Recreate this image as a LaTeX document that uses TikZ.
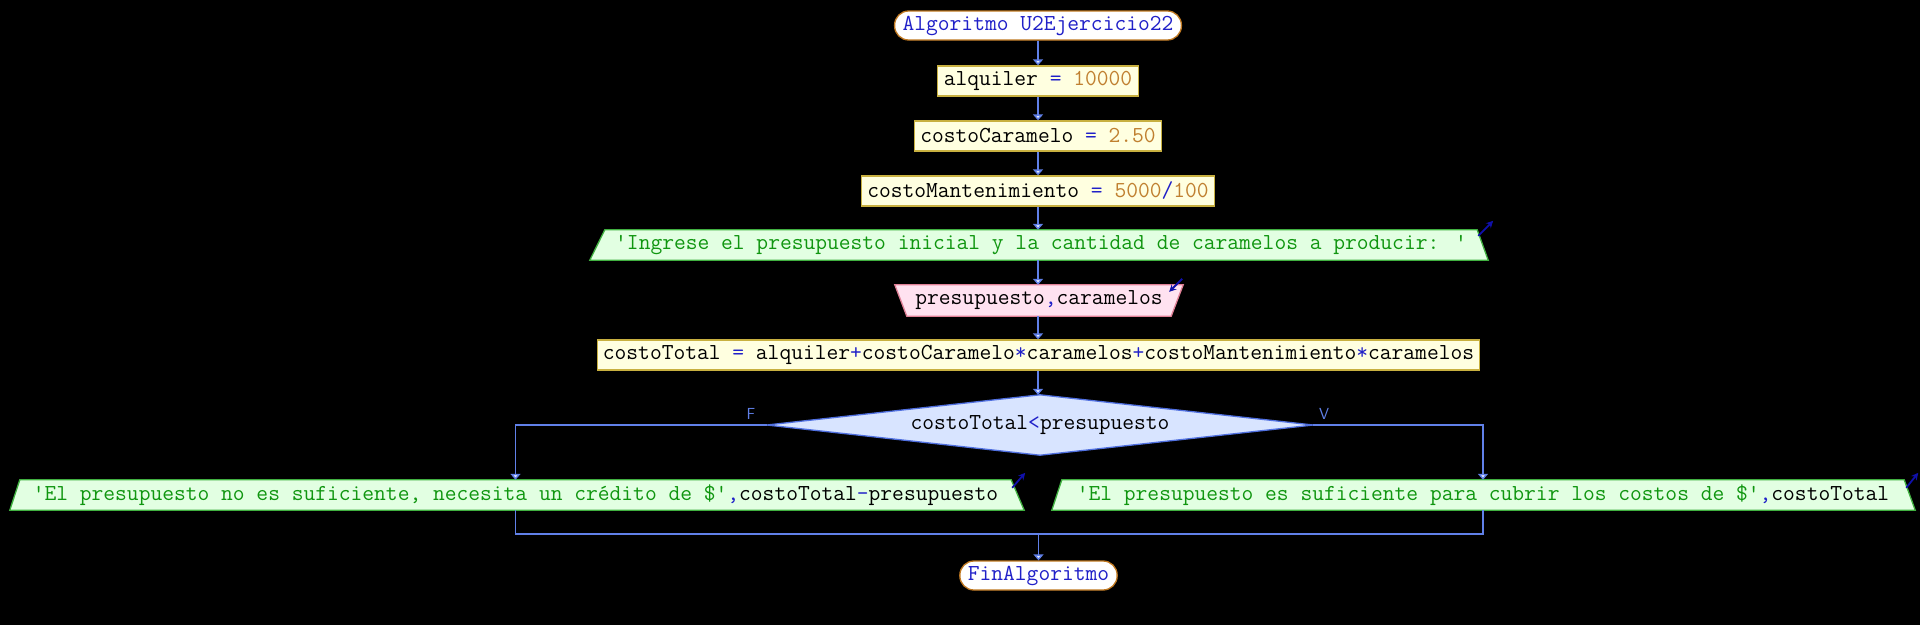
\documentclass[tikz,border=0pt]{standalone}
\usepackage{fontspec}
\usetikzlibrary{arrows.meta,backgrounds,calc}
\definecolor{linec}{RGB}{96,128,232}
\definecolor{headc}{RGB}{225,232,255}
\definecolor{kw}{RGB}{32,32,200}
\definecolor{num}{RGB}{192,128,48}
\definecolor{strc}{RGB}{16,150,16}
\definecolor{asgfill}{RGB}{255,255,224}
\definecolor{asgdraw}{RGB}{200,176,64}
\definecolor{outfill}{RGB}{226,255,226}
\definecolor{outdraw}{RGB}{64,176,64}
\definecolor{infill}{RGB}{255,226,240}
\definecolor{indraw}{RGB}{224,128,150}
\definecolor{decfill}{RGB}{216,228,255}
\definecolor{decdraw}{RGB}{80,112,224}
\definecolor{termdraw}{RGB}{192,120,32}
\definecolor{iconc}{RGB}{16,16,170}
\newcommand{\opc}[1]{\textcolor{kw}{#1}}
\newcommand{\numc}[1]{\textcolor{num}{#1}}
\newcommand{\strg}[1]{\textcolor{strc}{#1}}
\newcommand{\pfont}{\fontsize{22.86}{26}\selectfont\ttfamily}
\tikzset{
  base/.style={font=\pfont, text=black, inner ysep=0pt, minimum height=30pt},
  term/.style={base, draw=termdraw, fill=white, line width=1.3pt, rounded corners=14pt, inner xsep=8pt, minimum height=29pt},
  asg/.style={base, draw=asgdraw, fill=asgfill, line width=1.3pt, inner xsep=6pt},
  io/.style={base, inner xsep=0pt},
  dec/.style={base, inner xsep=0pt, minimum width=546pt, minimum height=60pt},
  flow/.style={draw=linec, line width=1.4pt, -{Triangle[width=10pt,length=6pt,fill=headc]}},
  plain/.style={draw=linec, line width=1.4pt},
  outshape/.style={fill=outfill, draw=outdraw, line width=1.3pt},
  inshape/.style={fill=infill, draw=indraw, line width=1.3pt},
  decshape/.style={fill=decfill, draw=decdraw, line width=1.3pt},
  lbl/.style={font=\fontsize{16}{16}\selectfont\sffamily, text=linec, inner sep=0pt},
  icon/.style={draw=iconc, line width=1.8pt, -{Stealth[length=7pt,width=7pt]}}
}
\begin{document}
\begin{tikzpicture}[x=1pt,y=-1pt]
\useasboundingbox (0,0) rectangle (1920,625);

\node[term] (start) at (1038,25.5) {\opc{Algoritmo U2Ejercicio22}};
\node[asg] (a1) at (1038,81) {alquiler \opc{=} \numc{10000}};
\node[asg] (a2) at (1038,136) {costoCaramelo \opc{=} \numc{2.50}};
\node[asg] (a3) at (1038,191) {costoMantenimiento \opc{=} \numc{5000}\opc{/}\numc{100}};
\node[io, minimum width=872pt] (out1) at (1041,245) {\strg{'Ingrese el presupuesto inicial y la cantidad de caramelos a producir: '}};
\node[io, minimum width=288pt, minimum height=31pt] (in1) at (1039,300.5) {presupuesto\opc{,}caramelos};
\node[asg, inner xsep=5.5pt] (ct) at (1038.5,355) {costoTotal \opc{=} alquiler\opc{+}costoCaramelo\opc{*}caramelos\opc{+}costoMantenimiento\opc{*}caramelos};
\node[dec] (d) at (1040,425) {costoTotal\opc{<}presupuesto};
\node[io, minimum width=991pt] (oL) at (515.5,495) {\strg{'El presupuesto no es suficiente, necesita un crédito de \$'}\opc{,}costoTotal\opc{-}presupuesto};
\node[io, minimum width=842pt] (oR) at (1483,495) {\strg{'El presupuesto es suficiente para cubrir los costos de \$'}\opc{,}costoTotal};
\node[term] (fin) at (1038.5,575.5) {\opc{FinAlgoritmo}};
\node[lbl] (fl) at (751,414) {F};
\node[lbl] (vl) at (1324,414) {V};
\coordinate (mL) at (oL.south |- 0,534);

\begin{scope}[on background layer]
  \fill[black] (0,0) rectangle (1920,625);
  \path[outshape] ($(out1.south west)+(-15,0)$) -- (out1.north west) -- (out1.north east) -- ($(out1.south east)+(11,0)$) -- cycle;
  \path[inshape] (in1.north west) -- (in1.north east) -- ($(in1.south east)+(-12,0)$) -- ($(in1.south west)+(12,0)$) -- cycle;
  \path[decshape] (d.west) -- (d.north) -- (d.east) -- (d.south) -- cycle;
  \path[outshape] ($(oL.south west)+(-10,0)$) -- (oL.north west) -- (oL.north east) -- ($(oL.south east)+(13,0)$) -- cycle;
  \path[outshape] ($(oR.south west)+(-10,0)$) -- (oR.north west) -- (oR.north east) -- ($(oR.south east)+(11,0)$) -- cycle;
\end{scope}

\draw[flow] (start.south) -- (start.south |- a1.north);
\draw[flow] (a1.south) -- (a1.south |- a2.north);
\draw[flow] (a2.south) -- (a2.south |- a3.north);
\draw[flow] (a3.south) -- (a3.south |- out1.north);
\draw[flow] (a3.south |- out1.south) -- (a3.south |- in1.north);
\draw[flow] (a3.south |- in1.south) -- (a3.south |- ct.north);
\draw[flow] (a3.south |- ct.south) -- (a3.south |- d.north);
\draw[flow] (d.west) -| (oL.north);
\draw[flow] (d.east) -| (oR.north);
\draw[plain] (oL.south) -- (mL) -- (oR.south |- mL) -- (oR.south);
\draw[flow] (fin.north |- mL) -- (fin.north);

\draw[icon] ($(out1.north east)+(1,6)$) -- ++(15,-15);
\draw[icon] ($(in1.north east)+(-1,-6)$) -- ++(-13,13);
\draw[icon] ($(oL.north east)+(1,8)$) -- ++(13,-15);
\draw[icon] ($(oR.north east)+(2,8)$) -- ++(12,-15);
\end{tikzpicture}
\end{document}
